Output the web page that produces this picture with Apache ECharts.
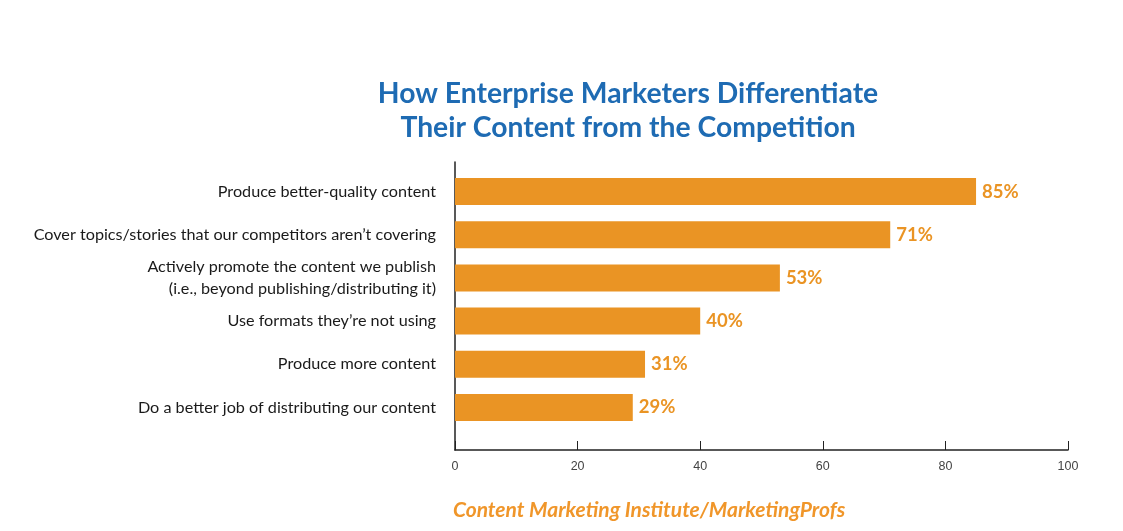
<!DOCTYPE html>
<html>
<head>
<meta charset="utf-8">
<script src="https://cdn.jsdelivr.net/npm/echarts@6/dist/echarts.min.js"></script>
<style>
html,body{margin:0;padding:0;background:#fff;}
#chart{width:1123px;height:531px;}
</style>
</head>
<body>
<div id="chart"></div>
<script>
const titleText = 'How Enterprise Marketers Differentiate\nTheir Content from the Competition';
const categories = [
  'Produce better-quality content',
  'Cover topics/stories that our competitors aren\u2019t covering',
  'Actively promote the content we publish\n(i.e., beyond publishing/distributing it)',
  'Use formats they\u2019re not using',
  'Produce more content',
  'Do a better job of distributing our content'
];
const values = [85, 71, 53, 40, 31, 29];
const xTicks = [0, 20, 40, 60, 80, 100];
const sourceText = 'Content Marketing Institute/MarketingProfs';

const ORANGE = '#EA9424';
const BLUE = '#1E6BB3';
const chart = echarts.init(document.getElementById('chart'));
chart.setOption({
  animation: false,
  backgroundColor: '#fff',
  title: {
    text: titleText,
    left: 623, top: 72, textAlign: 'center',
    textStyle: { fontFamily: 'Lato', fontWeight: 'bold', fontSize: 28.3, lineHeight: 34, color: BLUE }
  },
  grid: [
    { left: 455, right: 55, top: 162, bottom: 81 },
    { left: 455, right: 55, top: 170, height: 259 }
  ],
  xAxis: [
    { gridIndex: 0, type: 'value', min: xTicks[0], max: xTicks[xTicks.length-1], interval: 20,
      axisLine: { show: true, lineStyle: { color: '#222', width: 1.5 } },
      axisTick: { show: true, inside: true, length: 9, lineStyle: { color: '#222', width: 1 } },
      splitLine: { show: false },
      axisLabel: { margin: 10, color: '#444', fontFamily: 'Liberation Sans', fontSize: 12.5 } },
    { gridIndex: 1, type: 'value', min: 0, max: 100, show: false }
  ],
  yAxis: [
    { gridIndex: 0, type: 'value', min: 0, max: 1,
      axisLine: { show: true, lineStyle: { color: '#222', width: 1.5 } },
      axisTick: { show: false }, axisLabel: { show: false }, splitLine: { show: false } },
    { gridIndex: 1, type: 'category', inverse: true, data: categories,
      axisLine: { show: false }, axisTick: { show: false },
      axisLabel: { margin: 19, color: '#1a1a1a', fontFamily: 'Lato', fontSize: 16.2, lineHeight: 22, align: 'right' } }
  ],
  series: [{
    type: 'bar', xAxisIndex: 1, yAxisIndex: 1,
    data: values, barWidth: 27,
    itemStyle: { color: ORANGE },
    label: { show: true, position: 'right', distance: 6, formatter: '{c}%',
      color: ORANGE, fontFamily: 'Lato', fontWeight: 'bold', fontSize: 18.5 }
  }],
  graphic: [{
    type: 'text', left: 453, top: 500,
    style: { text: sourceText, fill: '#F0962A', font: 'italic bold 21px Lato' }
  }]
});
</script>
</body>
</html>
